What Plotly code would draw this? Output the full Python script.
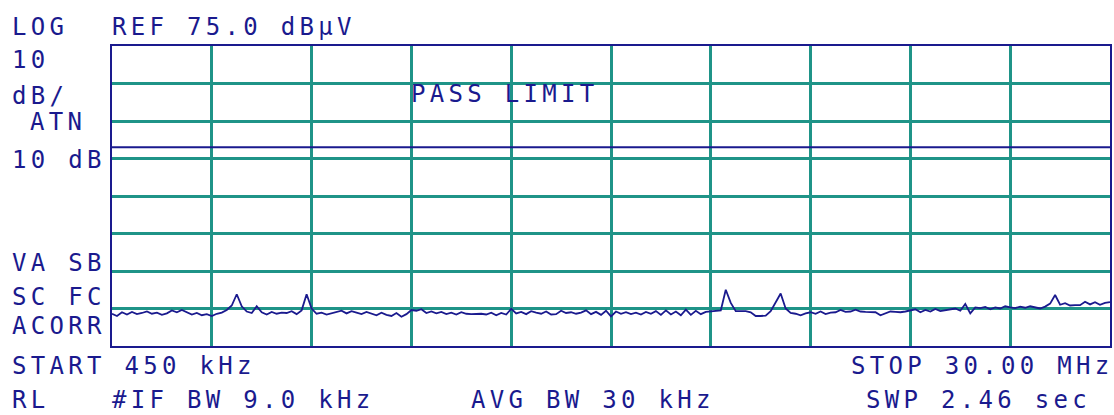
import plotly.graph_objects as go

# ---- instrument settings ----
START_MHZ = 0.45
STOP_MHZ = 30.00
REF_DBUV = 75.0
DB_PER_DIV = 10
N_XDIV = 10
N_YDIV = 8
LIMIT_DBUV = 48.0

# ---- trace readings (dBuV), one per sweep bin, 20 bins per horizontal division ----
div0 = [3.6, 3.0, 4.0, 3.4, 4.1, 3.5, 3.8, 4.2, 3.6, 3.9, 3.3, 3.7, 4.5, 4.0, 4.6, 3.9, 3.4, 3.8, 3.2, 3.5]
div1 = [3.0, 3.6, 3.9, 4.6, 5.8, 8.8, 5.6, 4.2, 3.8, 5.6, 4.0, 3.4, 4.1, 3.6, 3.9, 3.8, 4.3, 3.5, 4.5, 8.8]
div2 = [5.0, 3.6, 3.9, 3.4, 3.8, 4.0, 4.4, 3.7, 4.3, 3.9, 3.5, 4.1, 3.6, 3.2, 3.9, 3.3, 3.0, 3.8, 2.8, 3.5]
div3 = [4.6, 4.4, 4.8, 3.8, 4.2, 3.7, 4.1, 3.5, 3.9, 3.4, 4.0, 3.6, 3.5, 3.6, 3.6, 3.4, 3.9, 3.2, 3.8, 3.4]
div4 = [4.9, 3.7, 4.1, 3.5, 4.3, 3.9, 3.6, 4.2, 3.4, 3.5, 4.4, 3.8, 4.0, 3.6, 3.9, 4.5, 3.5, 4.1, 3.3, 4.4]
div5 = [2.9, 4.2, 3.6, 4.0, 3.5, 3.9, 3.4, 4.1, 3.6, 4.3, 3.3, 4.5, 3.4, 4.2, 3.2, 4.7, 3.3, 4.4, 3.5, 4.1]
div6 = [4.3, 4.3, 4.5, 10.0, 6.5, 4.3, 4.3, 4.3, 4.0, 3.0, 3.0, 3.1, 4.3, 6.8, 9.0, 5.0, 3.8, 3.6, 3.2, 3.7]
div7 = [4.0, 3.6, 4.2, 3.5, 3.9, 4.0, 4.6, 4.1, 4.2, 4.7, 4.2, 4.1, 4.1, 4.0, 3.2, 3.8, 4.2, 4.1, 4.0, 4.2]
div8 = [4.4, 4.8, 4.0, 4.6, 4.2, 4.9, 4.3, 4.5, 4.7, 5.0, 4.4, 6.2, 3.7, 5.3, 5.1, 5.4, 4.8, 5.3, 5.0, 5.6]
div9 = [5.3, 5.1, 5.5, 5.2, 5.6, 5.3, 5.0, 5.5, 6.3, 8.6, 6.0, 6.4, 5.8, 5.9, 5.9, 6.8, 6.1, 6.7, 6.0, 6.5]
last_bin = [6.7]

level_dbuv = div0 + div1 + div2 + div3 + div4 + div5 + div6 + div7 + div8 + div9 + last_bin
n_bins = len(level_dbuv)
freq_mhz = [START_MHZ + (STOP_MHZ - START_MHZ) * i / (n_bins - 1) for i in range(n_bins)]

# ---- screen annotations ----
labels = [
    ("LOG", 12, 27),
    ("REF 75.0 dBµV", 112, 27),
    ("10", 12, 60),
    ("dB/", 12, 96),
    ("ATN", 30, 122),
    ("10 dB", 12, 160),
    ("VA SB", 12, 263),
    ("SC FC", 12, 297),
    ("ACORR", 12, 326),
    ("START 450 kHz", 12, 366),
    ("STOP 30.00 MHz", 852, 366),
    ("RL", 12, 400),
    ("#IF BW 9.0 kHz", 112, 400),
    ("AVG BW 30 kHz", 472, 400),
    ("SWP 2.46 sec", 868, 400),
    ("PASS LIMIT", 412, 94),
]

NAVY = "#1a1a8e"
TEAL = "#1f9488"
W, H = 1114, 415
L, R, T, B = 112, 1112, 46, 346

fig = go.Figure()
fig.add_trace(go.Scatter(x=freq_mhz, y=level_dbuv, mode="lines",
                         line=dict(color=NAVY, width=1.8), hoverinfo="skip"))

y_bottom = REF_DBUV - N_YDIV * DB_PER_DIV
fig.add_shape(type="line", xref="x", yref="y", x0=START_MHZ, x1=STOP_MHZ,
              y0=LIMIT_DBUV, y1=LIMIT_DBUV, line=dict(color=NAVY, width=2))

for text, px, py in labels:
    fig.add_annotation(
        text=f'<span style="letter-spacing:4.3px">{text}</span>',
        xref="paper", yref="paper",
        x=(px - L) / (R - L) - 0.002, y=(B - py) / (B - T),
        xanchor="left", yanchor="middle", showarrow=False,
        font=dict(family="DejaVu Sans Mono", size=24, color=NAVY),
    )

fig.update_xaxes(range=[START_MHZ, STOP_MHZ], tick0=START_MHZ,
                 dtick=(STOP_MHZ - START_MHZ) / N_XDIV,
                 showgrid=True, gridcolor=TEAL, gridwidth=2.5,
                 showticklabels=False, ticks="", zeroline=False,
                 showline=True, linecolor=NAVY, linewidth=2, mirror=True)
fig.update_yaxes(range=[y_bottom, REF_DBUV], tick0=y_bottom, dtick=DB_PER_DIV,
                 showgrid=True, gridcolor=TEAL, gridwidth=2.5,
                 showticklabels=False, ticks="", zeroline=False,
                 showline=True, linecolor=NAVY, linewidth=2, mirror=True)

fig.update_layout(width=W, height=H, autosize=False,
                  margin=dict(l=L, r=W - R, t=T, b=H - B),
                  paper_bgcolor="white", plot_bgcolor="white",
                  showlegend=False)

fig.write_html("out.html", config={"displayModeBar": False},
               post_script="document.body.style.margin='0';document.body.style.overflow='hidden';")
